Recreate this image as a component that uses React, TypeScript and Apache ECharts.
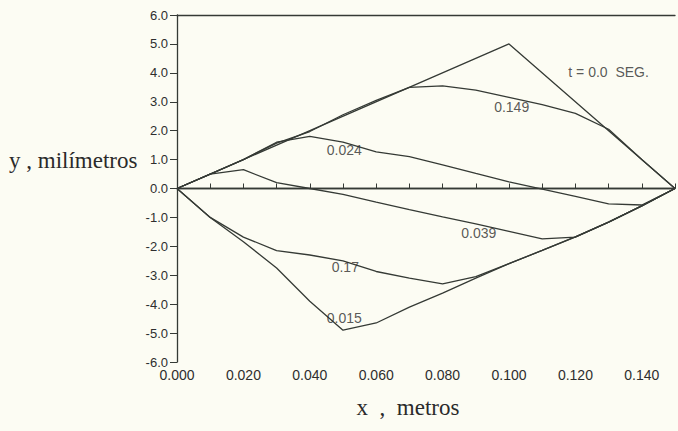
import React, { useEffect, useRef } from "react";
import * as echarts from "echarts";

// x positions (metros)
const xs = [0, 0.01, 0.02, 0.03, 0.04, 0.05, 0.06, 0.07, 0.08, 0.09, 0.1, 0.11, 0.12, 0.13, 0.14, 0.15];
// t = 0.0 s (initial triangular shape)
const t0X = [0, 0.1, 0.15];
const t0Y = [0, 5.0, 0];
// other instants (milímetros)
const y0149 = [0, 0.5, 1.0, 1.57, 1.97, 2.55, 3.05, 3.5, 3.55, 3.4, 3.15, 2.9, 2.6, 2.05, 1.0, 0];
const y0024 = [0, 0.5, 1.0, 1.6, 1.8, 1.6, 1.27, 1.1, 0.82, 0.52, 0.23, -0.02, -0.27, -0.53, -0.57, 0];
const y0039 = [0, 0.5, 0.65, 0.2, 0.0, -0.2, -0.47, -0.73, -0.98, -1.22, -1.48, -1.74, -1.68, -1.16, -0.6, 0];
const y017 = [0, -1.0, -1.68, -2.15, -2.3, -2.5, -2.87, -3.1, -3.3, -3.05, -2.6, -2.14, -1.67, -1.16, -0.6, 0];
const y0015 = [0, -1.0, -1.84, -2.75, -3.9, -4.9, -4.65, -4.1, -3.62, -3.1, -2.6, -2.14, -1.67, -1.16, -0.6, 0];

// curve annotations: [text, x, y]
const curveLabels: [string, number, number][] = [
  ["t = 0.0\u00a0 SEG.", 0.13, 4.03],
  ["0.149", 0.1008, 2.81],
  ["0.024", 0.0504, 1.32],
  ["0.039", 0.0909, -1.53],
  ["0.17", 0.0507, -2.71],
  ["0.015", 0.0504, -4.48],
];

const LINE = "#353a35";
const SANS = "'Liberation Sans', Arial, sans-serif";
const SERIF = "'Liberation Serif', 'Times New Roman', serif";

const pairs = (x: number[], y: number[]) => x.map((v, i) => [v, y[i]]);

export default function App() {
  const ref = useRef<HTMLDivElement>(null);
  useEffect(() => {
    document.body.style.margin = "0";
    const chart = echarts.init(ref.current!, null, { renderer: "svg" });
    const lineSeries = (name: string, data: number[][], extra: any = {}) => ({
      name,
      type: "line",
      data,
      symbol: "none",
      lineStyle: { color: LINE, width: 1.3 },
      z: 3,
      ...extra,
    });
    chart.setOption({
      animation: false,
      backgroundColor: "#fcfcf3",
      grid: { left: 177, right: 1, top: 15, bottom: 69 },
      xAxis: [
        {
          type: "value",
          min: 0,
          max: 0.15,
          interval: 0.01,
          axisLine: { show: true, lineStyle: { color: LINE, width: 1.3 } },
          axisTick: { show: true, inside: true, length: 5, lineStyle: { color: LINE } },
          splitLine: { show: false },
          axisLabel: {
            color: "#2e2e2e",
            fontFamily: SANS,
            fontSize: 14,
            margin: 6,
            showMaxLabel: true,
            formatter: (v: number) => (Math.round(v * 1000) % 20 === 0 ? v.toFixed(3) : ""),
          },
        },
        {
          type: "value",
          position: "top",
          min: 0,
          max: 0.15,
          axisLine: { show: true, lineStyle: { color: LINE, width: 1.3 } },
          axisTick: { show: false },
          axisLabel: { show: false },
          splitLine: { show: false },
        },
      ],
      yAxis: {
        type: "value",
        min: -6,
        max: 6,
        interval: 1,
        axisLine: { show: true, lineStyle: { color: LINE, width: 1.3 } },
        axisTick: { show: true, inside: false, length: 7, lineStyle: { color: LINE } },
        splitLine: { show: false },
        axisLabel: {
          color: "#2e2e2e",
          fontFamily: SANS,
          fontSize: 13,
          margin: 9,
          formatter: (v: number) => v.toFixed(1),
        },
      },
      series: [
        lineSeries("t0", pairs(t0X, t0Y), {
          markLine: {
            silent: true,
            symbol: "none",
            label: { show: false },
            lineStyle: { color: LINE, width: 1.3, type: "solid" },
            data: [{ yAxis: 0 }],
          },
        }),
        lineSeries("0.149", pairs(xs, y0149)),
        lineSeries("0.024", pairs(xs, y0024)),
        lineSeries("0.039", pairs(xs, y0039)),
        lineSeries("0.17", pairs(xs, y017)),
        lineSeries("0.015", pairs(xs, y0015)),
        {
          type: "scatter",
          symbolSize: 0,
          z: 5,
          data: curveLabels.map((l) => [l[1], l[2], l[0]]),
          label: {
            show: true,
            position: "inside",
            color: "#2e2e2e",
            fontFamily: SANS,
            fontSize: 14,
            formatter: (p: any) => p.data[2],
          },
        },
      ],
      graphic: [
        {
          type: "text",
          x: 9,
          y: 160,
          style: {
            text: "y , milímetros",
            fontFamily: SERIF,
            fontSize: 23,
            fill: "#2a2a2a",
            textAlign: "left",
            textVerticalAlign: "middle",
          },
        },
        {
          type: "text",
          x: 408,
          y: 407,
          style: {
            text: "x  ,  metros",
            fontFamily: SERIF,
            fontSize: 23,
            fill: "#2a2a2a",
            textAlign: "center",
            textVerticalAlign: "middle",
          },
        },
      ],
    });
    return () => chart.dispose();
  }, []);
  return <div ref={ref} style={{ width: 678, height: 431 }} />;
}
